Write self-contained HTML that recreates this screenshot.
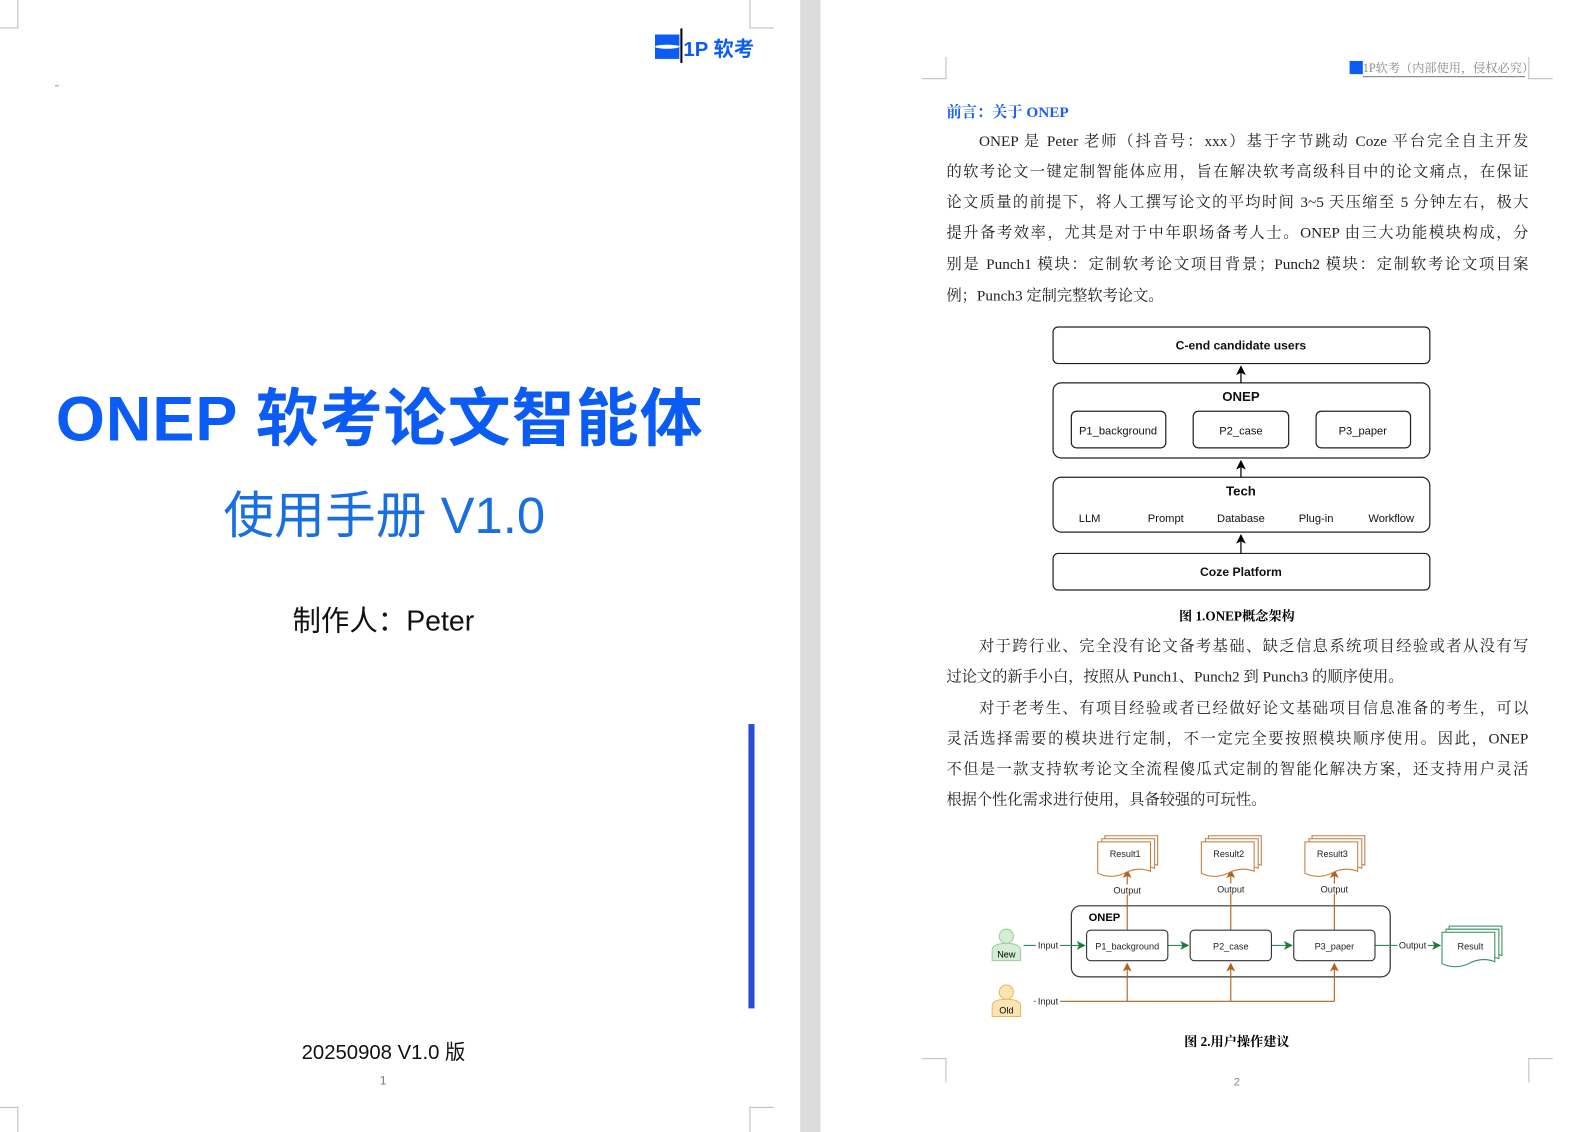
<!DOCTYPE html>
<html><head><meta charset="utf-8"><style>
*{margin:0;padding:0;box-sizing:border-box}
body{width:1591px;height:1115px;position:relative;background:#fff;overflow:hidden;font-family:"Liberation Sans","Noto Sans CJK SC",sans-serif}
#w{position:absolute;left:0;top:0;width:1591px;height:1115px;transform:scale(1.0155);transform-origin:0 0}
.a{position:absolute;white-space:nowrap}
.ln{position:absolute;left:932px;width:573px;font-family:"Liberation Serif","Noto Serif CJK SC",serif;font-size:15px;color:#222;text-align:justify;text-align-last:justify;white-space:nowrap;line-height:20px}
.ln.s{text-align-last:left}
</style></head><body><div id="w">
<div class="a" style="left:788px;top:0;width:20px;height:1115px;background:#dcdcdc"></div>
<div class="a" style="left:0;top:0;width:18px;height:28px;border-right:1px solid #bbb;border-bottom:1px solid #bbb"></div>
<div class="a" style="left:738px;top:0;width:24px;height:28px;border-left:1px solid #bbb;border-bottom:1px solid #bbb"></div>
<div class="a" style="left:0;top:1090px;width:18px;height:25px;border-right:1px solid #bbb;border-top:1px solid #bbb"></div>
<div class="a" style="left:738px;top:1090px;width:24px;height:25px;border-left:1px solid #bbb;border-top:1px solid #bbb"></div>
<div class="a" style="left:645px;top:34px;width:24px;height:24px;background:#0a5cf5"></div>
<div class="a" style="left:645px;top:44px;width:24px;height:4px;background:#fff;border-radius:50%"></div>
<div class="a" style="left:670px;top:28px;width:2px;height:34px;background:#000"></div>
<div class="a" style="left:673px;top:32px;font-size:20px;font-weight:bold;color:#0a5cf5">1P 软考</div>
<div class="a" style="left:54px;top:84px;width:4px;height:1px;background:#999"></div>
<div class="a" style="left:55px;top:362px;font-size:62px;font-weight:bold;color:#0a5cf5;letter-spacing:1px">ONEP 软考论文智能体</div>
<div class="a" style="left:220px;top:468px;font-size:50px;color:#1a6fe0">使用手册 V1.0</div>
<div class="a" style="left:288px;top:590px;font-size:28px;color:#111">制作人：Peter</div>
<div class="a" style="left:737px;top:713px;width:6px;height:280px;background:#2a4bd8"></div>
<div class="a" style="left:297px;top:1020px;font-size:20px;color:#111">20250908 V1.0 版</div>
<div class="a" style="left:374px;top:1057px;font-size:12px;color:#777">1</div>

<div class="a" style="left:908px;top:56px;width:24px;height:22px;border-right:1px solid #bbb;border-bottom:1px solid #bbb"></div>
<div class="a" style="left:1505px;top:56px;width:24px;height:22px;border-left:1px solid #bbb;border-bottom:1px solid #bbb"></div>
<div class="a" style="left:908px;top:1042px;width:24px;height:24px;border-right:1px solid #bbb;border-top:1px solid #bbb"></div>
<div class="a" style="left:1505px;top:1042px;width:24px;height:24px;border-left:1px solid #bbb;border-top:1px solid #bbb"></div>
<div class="a" style="left:1329px;top:60px;width:13px;height:13px;background:#0a5cf5"></div>
<div class="a" style="left:1342px;top:58px;font-size:12px;color:#888;font-family:'Liberation Serif','Noto Serif CJK SC',serif;border-bottom:1px solid #777;width:160px">1P软考（内部使用，侵权必究）</div>
<div class="a" style="left:932px;top:99px;font-size:15px;font-weight:bold;color:#1a5ff0;font-family:'Liberation Serif','Noto Serif CJK SC',serif">前言：关于 ONEP</div>
<div class="ln" style="top:130px;padding-left:32px">ONEP 是 Peter 老师（抖音号：xxx）基于字节跳动 Coze 平台完全自主开发</div>
<div class="ln" style="top:160px">的软考论文一键定制智能体应用，旨在解决软考高级科目中的论文痛点，在保证</div>
<div class="ln" style="top:190px">论文质量的前提下，将人工撰写论文的平均时间 3~5 天压缩至 5 分钟左右，极大</div>
<div class="ln" style="top:220px">提升备考效率，尤其是对于中年职场备考人士。ONEP 由三大功能模块构成，分</div>
<div class="ln" style="top:251px">别是 Punch1 模块：定制软考论文项目背景；Punch2 模块：定制软考论文项目案</div>
<div class="ln s" style="top:282px">例；Punch3 定制完整软考论文。</div>

<svg class="a" style="left:0;top:0" width="1591" height="1115" font-family="Liberation Sans, sans-serif">
<defs>
<marker id="ak" markerWidth="8" markerHeight="8" refX="7" refY="4" orient="auto"><path d="M0,0L8,4L0,8L2,4z" fill="#000"/></marker>
<marker id="ag" markerWidth="8" markerHeight="8" refX="7" refY="4" orient="auto"><path d="M0,0L8,4L0,8L2,4z" fill="#1f7a3a"/></marker>
<marker id="ao" markerWidth="8" markerHeight="8" refX="7" refY="4" orient="auto"><path d="M0,0L8,4L0,8L2,4z" fill="#b0621c"/></marker>
</defs>
<g fill="#fff" stroke="#222" stroke-width="1.2">
<rect x="1037" y="322" width="371" height="36" rx="5"/>
<rect x="1037" y="377" width="371" height="74" rx="8"/>
<rect x="1055" y="405" width="93" height="36" rx="5"/>
<rect x="1175" y="405" width="94" height="36" rx="5"/>
<rect x="1296" y="405" width="93" height="36" rx="5"/>
<rect x="1037" y="470" width="371" height="54" rx="8"/>
<rect x="1037" y="545" width="371" height="36" rx="5"/>
</g>
<g stroke="#000" stroke-width="1.2">
<line x1="1222" y1="377" x2="1222" y2="361" marker-end="url(#ak)"/>
<line x1="1222" y1="470" x2="1222" y2="454" marker-end="url(#ak)"/>
<line x1="1222" y1="545" x2="1222" y2="527" marker-end="url(#ak)"/>
</g>
<g font-size="12" text-anchor="middle" fill="#111">
<text x="1222" y="344" font-weight="bold">C-end candidate users</text>
<text x="1222" y="395" font-weight="bold" font-size="13">ONEP</text>
<text x="1101" y="428" font-size="11">P1_background</text>
<text x="1222" y="428" font-size="11">P2_case</text>
<text x="1342" y="428" font-size="11">P3_paper</text>
<text x="1222" y="488" font-weight="bold" font-size="13">Tech</text>
<text x="1073" y="514" font-size="11">LLM</text>
<text x="1148" y="514" font-size="11">Prompt</text>
<text x="1222" y="514" font-size="11">Database</text>
<text x="1296" y="514" font-size="11">Plug-in</text>
<text x="1370" y="514" font-size="11">Workflow</text>
<text x="1222" y="567" font-weight="bold">Coze Platform</text>
</g>
<text x="1218" y="611" font-size="13" font-weight="bold" text-anchor="middle" font-family="Liberation Serif, Noto Serif CJK SC, serif">图 1.ONEP概念架构</text>

<rect x="1055" y="892" width="314" height="70" rx="9" fill="#fff" stroke="#333" stroke-width="1.2"/>
<text x="1072" y="907" font-size="11" font-weight="bold">ONEP</text>
<g fill="none" stroke="#b0621c" stroke-width="1.1">
<line x1="1018" y1="986" x2="1314" y2="986"/>
<line x1="1110" y1="986" x2="1110" y2="949" marker-end="url(#ao)"/>
<line x1="1212" y1="986" x2="1212" y2="949" marker-end="url(#ao)"/>
<line x1="1314" y1="986" x2="1314" y2="949" marker-end="url(#ao)"/>
<line x1="1110" y1="916" x2="1110" y2="857" marker-end="url(#ao)"/>
<line x1="1212" y1="916" x2="1212" y2="857" marker-end="url(#ao)"/>
<line x1="1314" y1="916" x2="1314" y2="857" marker-end="url(#ao)"/>
</g>
<g fill="none" stroke="#2e8b57" stroke-width="1.1">
<line x1="1008" y1="931" x2="1068" y2="931" marker-end="url(#ag)"/>
<line x1="1150" y1="931" x2="1170" y2="931" marker-end="url(#ag)"/>
<line x1="1252" y1="931" x2="1272" y2="931" marker-end="url(#ag)"/>
<line x1="1354" y1="931" x2="1418" y2="931" marker-end="url(#ag)"/>
</g>
<g fill="#fff" stroke="#333" stroke-width="1.1">
<rect x="1070" y="916" width="80" height="30" rx="4"/>
<rect x="1172" y="916" width="80" height="30" rx="4"/>
<rect x="1274" y="916" width="80" height="30" rx="4"/>
</g>
<g fill="#fff" stroke="#c07a3a" stroke-width="1">
<g id="d1"><path d="M1088,823h52v29q-13,-5 -26,2q-13,6 -26,0z"/><path d="M1085,826h52v29q-13,-5 -26,2q-13,6 -26,0z"/><path d="M1081,829h52v29q-13,-5 -26,2q-13,6 -26,0z"/></g>
<use href="#d1" x="102"/><use href="#d1" x="204"/>
</g>
<g fill="#fff" stroke="#2e8b57" stroke-width="1"><use href="#d1" x="339" y="89"/></g>
<g font-size="9" text-anchor="middle" fill="#222">
<text x="1108" y="844">Result1</text><text x="1210" y="844">Result2</text><text x="1312" y="844">Result3</text>
<rect x="1094" y="871" width="30" height="10" fill="#fff"/><text x="1110" y="880">Output</text>
<rect x="1196" y="870" width="30" height="10" fill="#fff"/><text x="1212" y="879">Output</text>
<rect x="1298" y="870" width="30" height="10" fill="#fff"/><text x="1314" y="879">Output</text>
<text x="1110" y="935">P1_background</text><text x="1212" y="935">P2_case</text><text x="1314" y="935">P3_paper</text>
<rect x="1020" y="926" width="24" height="10" fill="#fff"/><text x="1032" y="934">Input</text>
<rect x="1020" y="981" width="24" height="10" fill="#fff"/><text x="1032" y="989">Input</text>
<rect x="1376" y="926" width="30" height="10" fill="#fff"/><text x="1391" y="934">Output</text>
<text x="1448" y="935">Result</text>
</g>
<g stroke="#9ccc9c" fill="#d5ecd5"><circle cx="991" cy="922" r="7"/><path d="M977,946v-10q0,-7 14,-7q14,0 14,7v10z"/></g>
<text x="991" y="943" font-size="9" text-anchor="middle">New</text>
<g stroke="#e6b85c" fill="#fde4b5"><circle cx="991" cy="977" r="7"/><path d="M977,1001v-10q0,-7 14,-7q14,0 14,7v10z"/></g>
<text x="991" y="998" font-size="9" text-anchor="middle">Old</text>
<text x="1218" y="1030" font-size="13" font-weight="bold" text-anchor="middle" font-family="Liberation Serif, Noto Serif CJK SC, serif">图 2.用户操作建议</text>
<text x="1218" y="1069" font-size="11" fill="#888" text-anchor="middle">2</text>
</svg>

<div class="ln" style="top:627px;padding-left:32px">对于跨行业、完全没有论文备考基础、缺乏信息系统项目经验或者从没有写</div>
<div class="ln s" style="top:657px">过论文的新手小白，按照从 Punch1、Punch2 到 Punch3 的顺序使用。</div>
<div class="ln" style="top:688px;padding-left:32px">对于老考生、有项目经验或者已经做好论文基础项目信息准备的考生，可以</div>
<div class="ln" style="top:718px">灵活选择需要的模块进行定制，不一定完全要按照模块顺序使用。因此，ONEP</div>
<div class="ln" style="top:748px">不但是一款支持软考论文全流程傻瓜式定制的智能化解决方案，还支持用户灵活</div>
<div class="ln s" style="top:778px">根据个性化需求进行使用，具备较强的可玩性。</div>
</div></body></html>
